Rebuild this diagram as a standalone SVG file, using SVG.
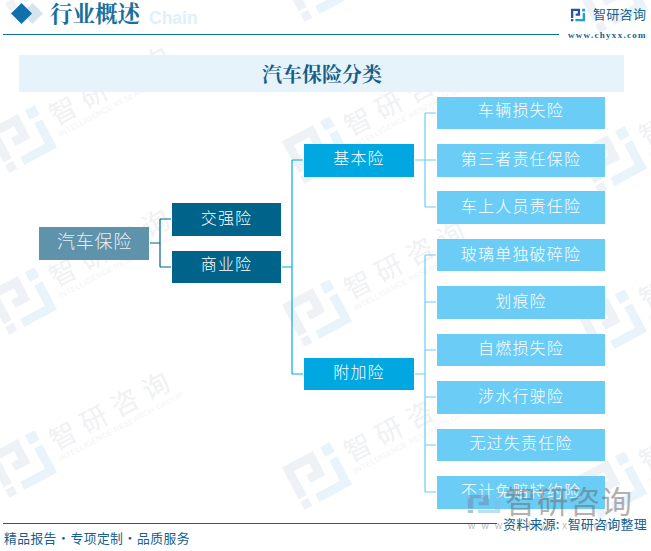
<svg xmlns="http://www.w3.org/2000/svg" xmlns:xlink="http://www.w3.org/1999/xlink" width="651" height="551" viewBox="0 0 651 551">
<style>
text{font-family:"Noto Sans CJK SC","Liberation Sans",sans-serif}
.s{font-family:"Liberation Serif","Noto Serif CJK SC",serif}
.l{font-size:16px;fill:#fff;text-anchor:middle;letter-spacing:1.2px;font-weight:300}
.a{fill:#6bcdf6}.b{fill:#00a7e0}.c{fill:#00648a}
.k1,.k2,.k3{fill:none;stroke-width:1.2}
.k1{stroke:#00648a}.k2{stroke:#00aee8}.k3{stroke:#6bcdf6}
.wt{font-size:27px;letter-spacing:8px;fill:#eff1f3}
.we{font-size:7.500px;letter-spacing:.45px;fill:#f2f3f5;font-family:"Liberation Sans",sans-serif}
</style>
<defs>
<path id="logoA" d="M-27-24H8V3H-9V-6H-1V-15H-18V12H-27ZM-27 15H-18V24H-27Z"/>
<path id="logoB" d="M18-8H27V24H-10V15H18ZM16-24H27V-13H16Z"/>
<g id="wmk">
<use xlink:href="#logoA" fill="#eef1f5"/>
<use xlink:href="#logoB" fill="#e9f4fa"/>
<text class="wt" x="36" y="4">智研咨询</text>
<text class="we" x="35" y="16">INTELLIGENCE RESEARCH GROUP</text>
</g>
</defs>
<rect width="651" height="551" fill="#fff"/>
<g id="watermarks">
<use xlink:href="#wmk" transform="translate(22 -23) rotate(-28)"/>
<use xlink:href="#wmk" transform="translate(22 139) rotate(-28)"/>
<use xlink:href="#wmk" transform="translate(22 301) rotate(-28)"/>
<use xlink:href="#wmk" transform="translate(22 464) rotate(-28)"/>
<use xlink:href="#wmk" transform="translate(317 -12) rotate(-28)"/>
<use xlink:href="#wmk" transform="translate(317 150) rotate(-28)"/>
<use xlink:href="#wmk" transform="translate(317 313) rotate(-28)"/>
<use xlink:href="#wmk" transform="translate(317 476) rotate(-28)"/>
<use xlink:href="#wmk" transform="translate(612 -1) rotate(-28)"/>
<use xlink:href="#wmk" transform="translate(612 160) rotate(-28)"/>
<use xlink:href="#wmk" transform="translate(612 323) rotate(-28)"/>
<use xlink:href="#wmk" transform="translate(612 485) rotate(-28)"/>
</g>
<g id="header">
<text x="149" y="24" font-size="17.500" font-weight="700" fill="#e0f0fb" style="font-family:'Liberation Sans',sans-serif">Chain</text>
<path d="M32.500 3l10.500 10.500-10.500 10.500-10.500-10.500z" fill="#d5e5ee"/>
<path d="M21.500 3l10.500 10.500-10.500 10.500-10.500-10.500z" fill="#1170ab"/>
<text class="s" x="50" y="22" font-size="22.500" font-weight="700" fill="#1a6f9f">行业概述</text>
<path d="M3 34.500H559" stroke="#0f6ea3" stroke-width="1.200"/>
<use xlink:href="#logoA" fill="#27549b" transform="translate(578 15) scale(.26)"/>
<use xlink:href="#logoB" fill="#1aa0dc" transform="translate(578 15) scale(.26)"/>
<text x="593" y="19" font-size="13" fill="#14608f" letter-spacing=".3">智研咨询</text>
<text class="s" x="568" y="38" font-size="9" font-weight="700" fill="#14608f" letter-spacing="1.300">www.chyxx.com</text>
</g>
<g id="title">
<rect x="19" y="55" width="605" height="37" fill="#e7f3fb"/>
<text class="s" x="322" y="82" font-size="20" font-weight="700" fill="#155f87" text-anchor="middle">汽车保险分类</text>
</g>
<g id="connectors">
<path class="k1" d="M150 243H160M160 219H171M160 267H171M160 219V267"/>
<path class="k2" d="M282 267H292M292 160H303M292 374H303M292 160V374"/>
<path class="k3" d="M415 160H425M425 113H436M425 207H436M425 160H436M425 113V207"/>
<path class="k3" d="M415 374H425M425 255H436M425 302H436M425 350H436M425 397H436M425 445H436M425 492H436M425 255V492"/>
</g>
<g id="n-root"><rect x="39" y="227" width="110" height="33" fill="#5f92ab"/><text class="l" x="94.500" y="248" style="font-size:18px;letter-spacing:.7px;fill:#e8f0f4">汽车保险</text></g>
<g id="n-jq"><rect class="c" x="172" y="203" width="109" height="33"/><text class="l" x="226.500" y="224">交强险</text></g>
<g id="n-sy"><rect class="c" x="172" y="251" width="109" height="32"/><text class="l" x="226.500" y="270">商业险</text></g>
<g id="n-jb"><rect class="b" x="304" y="144" width="110" height="33"/><text class="l" x="359" y="164">基本险</text></g>
<g id="n-fj"><rect class="b" x="304" y="358" width="110" height="32"/><text class="l" x="359" y="378">附加险</text></g>
<g id="n-1"><rect class="a" x="437" y="97" width="168" height="32"/><text class="l" x="521" y="116">车辆损失险</text></g>
<g id="n-2"><rect class="a" x="437" y="144" width="168" height="33"/><text class="l" x="521" y="165">第三者责任保险</text></g>
<g id="n-3"><rect class="a" x="437" y="191" width="168" height="33"/><text class="l" x="521" y="212">车上人员责任险</text></g>
<g id="n-4"><rect class="a" x="437" y="239" width="168" height="32"/><text class="l" x="521" y="260">玻璃单独破碎险</text></g>
<g id="n-5"><rect class="a" x="437" y="286" width="168" height="33"/><text class="l" x="521" y="307">划痕险</text></g>
<g id="n-6"><rect class="a" x="437" y="334" width="168" height="32"/><text class="l" x="521" y="354">自燃损失险</text></g>
<g id="n-7"><rect class="a" x="437" y="381" width="168" height="33"/><text class="l" x="521" y="402">涉水行驶险</text></g>
<g id="n-8"><rect class="a" x="437" y="429" width="168" height="32"/><text class="l" x="521" y="449">无过失责任险</text></g>
<g id="n-9"><rect class="a" x="437" y="476" width="168" height="33"/><text class="l" x="521" y="497">不计免赔特约险</text></g>
<g id="overlay-mark" opacity=".5">
<use xlink:href="#logoA" fill="#6f87ad" transform="translate(484 504) scale(.6 .38)"/>
<use xlink:href="#logoB" fill="#7cc0e0" transform="translate(484 504) scale(.6 .38)"/>
<text x="505" y="513" font-size="31" fill="#666" letter-spacing="1">智研咨询</text>
<text x="468" y="529" font-size="10" fill="#777" letter-spacing="6.200" style="font-family:'Liberation Sans',sans-serif">www.chyxx.com</text>
</g>
<g id="footer">
<path d="M3 523.500H497" stroke="#15608c" stroke-width="1.200"/>
<text x="4" y="543" font-size="12.800" fill="#15608c" letter-spacing=".4" word-spacing="-3">精品报告 · 专项定制 · 品质服务</text>
<text x="503" y="529" font-size="13" fill="#15608c" letter-spacing=".2">资料来源:<tspan dx="8">智研咨询整理</tspan></text>
</g>
</svg>
